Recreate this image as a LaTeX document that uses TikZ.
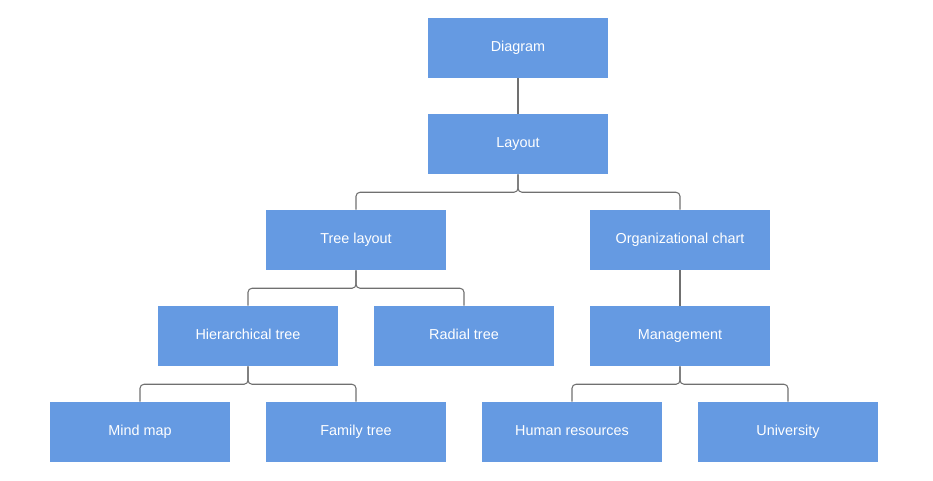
\documentclass[tikz,border=0pt]{standalone}
\usepackage{fontspec}
\setmainfont{Liberation Sans}
\begin{document}
\begin{tikzpicture}[x=0.75pt,y=-0.75pt,
  box/.style={draw=none,fill=boxblue,minimum width=135pt,minimum height=45pt,inner sep=0pt,text=white,font=\fontsize{10.8}{13}\selectfont,text height=7.8pt,text depth=2.2pt},
  link/.style={draw=linkgray,line width=0.8pt,rounded corners=3pt}]
\definecolor{boxblue}{RGB}{101,154,226}
\definecolor{linkgray}{RGB}{112,112,112}
\useasboundingbox (0,0) rectangle (933,480);
\node[box] (diagram) at (518,48) {Diagram};
\node[box] (layout) at (518,144) {Layout};
\node[box] (tree) at (356,240) {Tree layout};
\node[box] (org) at (680,240) {Organizational chart};
\node[box] (hier) at (248,336) {Hierarchical tree};
\node[box] (radial) at (464,336) {Radial tree};
\node[box] (mgmt) at (680,336) {Management};
\node[box] (mind) at (140,432) {Mind map};
\node[box] (family) at (356,432) {Family tree};
\node[box] (hr) at (572,432) {Human resources};
\node[box] (uni) at (788,432) {University};
\draw[link] (diagram.south) -- (layout.north);
\draw[link] (org.south) -- (mgmt.north);
\draw[link] (layout.south) -- ++(0,18) -| (tree.north);
\draw[link] (layout.south) -- ++(0,18) -| (org.north);
\draw[link] (tree.south) -- ++(0,18) -| (hier.north);
\draw[link] (tree.south) -- ++(0,18) -| (radial.north);
\draw[link] (hier.south) -- ++(0,18) -| (mind.north);
\draw[link] (hier.south) -- ++(0,18) -| (family.north);
\draw[link] (mgmt.south) -- ++(0,18) -| (hr.north);
\draw[link] (mgmt.south) -- ++(0,18) -| (uni.north);
\end{tikzpicture}
\end{document}
